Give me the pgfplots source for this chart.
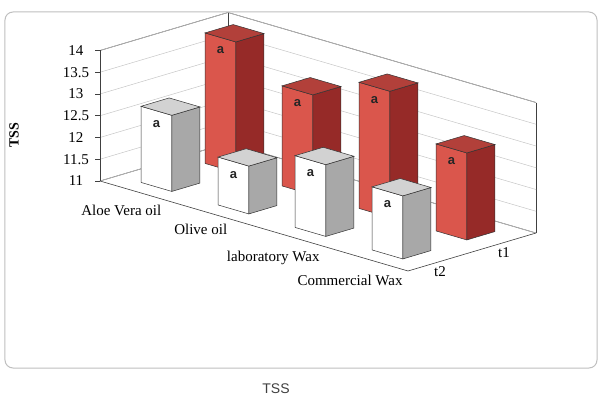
\documentclass[border=0pt]{standalone}
\usepackage{fontspec}
\setmainfont{Liberation Serif}
\newfontfamily\arialfont{Liberation Sans}
\usepackage{pgfplots}
\pgfplotsset{compat=1.18}
\usetikzlibrary{calc}
\definecolor{redF}{RGB}{218,86,76}
\definecolor{redS}{RGB}{150,42,40}
\definecolor{redT}{RGB}{178,64,58}
\definecolor{whF}{RGB}{255,255,255}
\definecolor{whS}{RGB}{168,168,168}
\definecolor{whT}{RGB}{210,210,210}
% #1 category centre, #2 depth centre, #3 value, #4 colour prefix
\newcommand{\tbar}[4]{%
  \pgfmathsetmacro\xa{#1-0.2}\pgfmathsetmacro\xb{#1+0.2}%
  \pgfmathsetmacro\ya{#2-0.11}\pgfmathsetmacro\yb{#2+0.11}%
  \pgfmathsetmacro\zl{#3-0.3}%
  \addplot3[fill=#4F,draw=black!80,line width=0.5pt] coordinates {(\xa,\ya,11) (\xb,\ya,11) (\xb,\ya,#3) (\xa,\ya,#3)} -- cycle;
  \addplot3[fill=#4S,draw=black!80,line width=0.5pt] coordinates {(\xb,\ya,11) (\xb,\yb,11) (\xb,\yb,#3) (\xb,\ya,#3)} -- cycle;
  \addplot3[fill=#4T,draw=black!80,line width=0.5pt] coordinates {(\xa,\ya,#3) (\xb,\ya,#3) (\xb,\yb,#3) (\xa,\yb,#3)} -- cycle;
  \addplot3[draw=none,mark=none,nodes near coords={\textbf{a}},
    nodes near coords style={anchor=center,font=\arialfont\fontsize{13}{15}\selectfont\bfseries,text=black!85}]
    coordinates {(#1,\ya,\zl)};
}
\begin{document}
\begin{tikzpicture}
\begin{axis}[
  x={(77pt,-22.5pt)}, y={(128pt,38pt)}, z={(0pt,43.5pt)},
  xmin=0,xmax=4,ymin=0,ymax=1,zmin=11,zmax=14,
  xtick={0.5,1.5,2.5,3.5},
  xticklabels={Aloe Vera oil,Olive oil,laboratory Wax,Commercial Wax},
  ytick={0.25,0.75}, yticklabels={t2,t1},
  ztick={11,11.5,12,12.5,13,13.5,14},
  zmajorgrids, xmajorgrids=false, ymajorgrids=false,
  major grid style={gray!45, line width=0.5pt},
  axis line style={black!75, line width=0.6pt},
  xtick style={draw=none}, ytick style={draw=none}, ztick style={draw=none},
  ticklabel style={font=\fontsize{15}{18}\selectfont},
  xticklabel style={xshift=-4pt},
  zticklabel style={anchor=center, xshift=-24pt},
  yticklabel style={xshift=-7pt, yshift=-1pt},
  /pgf/number format/assume math mode=true,
  clip=false,
]
\coordinate (O) at (axis cs:0,0,11);
% t1 row (back)
\tbar{0.5}{0.75}{14.0}{red}
\tbar{1.5}{0.75}{13.3}{red}
\tbar{2.5}{0.75}{13.9}{red}
\tbar{3.5}{0.75}{13.0}{red}
% t2 row (front)
\tbar{0.5}{0.25}{12.75}{wh}
\tbar{1.5}{0.25}{12.1}{wh}
\tbar{2.5}{0.25}{12.65}{wh}
\tbar{3.5}{0.25}{12.45}{wh}
% tick marks on the value axis
\pgfplotsinvokeforeach{11,11.5,12,12.5,13,13.5,14}{
  \draw[black!75, line width=0.6pt] (axis cs:0,0,#1) -- ++(-5pt,0pt);
}
\end{axis}
\pgfresetboundingbox
\path[use as bounding box] ($(O)+(-100pt,181pt)$) rectangle ($(O)+(499pt,-220pt)$);
\draw[gray!50, line width=1pt, rounded corners=8pt] ($(O)+(-95pt,169pt)$) rectangle ($(O)+(497pt,-187pt)$);
\node[font=\arialfont\fontsize{14}{16}\selectfont, text=black!75] at ($(O)+(176pt,-208pt)$) {TSS};
\node[rotate=90, font=\fontsize{14}{16}\selectfont\bfseries] at ($(O)+(-86pt,46pt)$) {TSS};
\end{tikzpicture}
\end{document}
